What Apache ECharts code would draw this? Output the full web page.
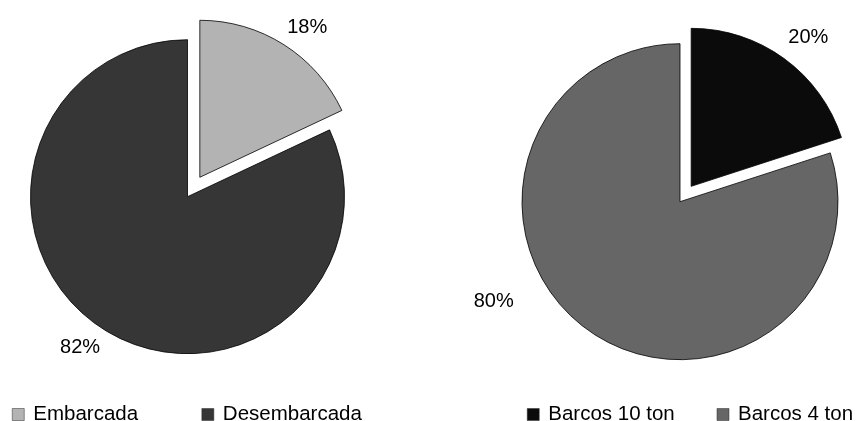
<!DOCTYPE html>
<html>
<head>
<meta charset="utf-8">
<script src="https://cdn.jsdelivr.net/npm/echarts@6/dist/echarts.min.js"></script>
<style>
  html, body { margin: 0; padding: 0; background: #ffffff; }
  #chart { width: 857px; height: 421px; }
</style>
</head>
<body>
<div id="chart"></div>
<script>
// Left pie: share of catch landed on board vs. unloaded
const captureCategories = ['Embarcada', 'Desembarcada'];
const captureValues = [18, 82];
const captureColors = ['#b3b3b3', '#363636'];

// Right pie: share by vessel class
const fleetCategories = ['Barcos 10 ton', 'Barcos 4 ton'];
const fleetValues = [20, 80];
const fleetColors = ['#0b0b0b', '#666666'];

const FONT = "'Liberation Sans', Arial, sans-serif";

function pieData(names, values, colors, extra) {
  return names.map((n, i) => Object.assign({
    name: n,
    value: values[i],
    itemStyle: { color: colors[i] }
  }, extra[i] || {}));
}

function pieSeries(names, values, colors, center, radius, offset, extra) {
  return {
    type: 'pie',
    center: center,
    radius: radius,
    startAngle: 90,
    clockwise: true,
    selectedMode: 'single',
    selectedOffset: offset,
    avoidLabelOverlap: false,
    silent: true,
    animation: false,
    itemStyle: { borderColor: '#000000', borderWidth: 0.8 },
    label: {
      show: true,
      position: 'outside',
      formatter: '{d}%',
      color: '#000000',
      fontFamily: FONT,
      fontSize: 20
    },
    labelLine: { show: false, length: 21, length2: -13 },
    emphasis: { disabled: true },
    data: pieData(names, values, colors, extra)
  };
}

function legend(names, left, gap) {
  return {
    data: names,
    left: left,
    top: 404,
    padding: 0,
    orient: 'horizontal',
    icon: 'rect',
    itemWidth: 12,
    itemHeight: 12,
    itemGap: gap,
    selectedMode: false,
    itemStyle: { borderColor: '#2a2a2a', borderWidth: 0.5 },
    textStyle: {
      fontFamily: FONT,
      fontSize: 20.5,
      lineHeight: 20,
      color: '#000000',
      padding: [0, 0, 0, 4]
    }
  };
}

const chart = echarts.init(document.getElementById('chart'), null, { renderer: 'canvas' });
chart.setOption({
  backgroundColor: '#ffffff',
  animation: false,
  legend: [
    legend(captureCategories, 12, 63.5),
    legend(fleetCategories, 527, 42)
  ],
  series: [
    pieSeries(captureCategories, captureValues, captureColors, [187.5, 196.7], 157, 23,
      [{ selected: true }, {}]),
    pieSeries(fleetCategories, fleetValues, fleetColors, [680, 201.7], 158, 19,
      [{ selected: true, labelLine: { length: 26, length2: -16 } },
       { labelLine: { length: -35, length2: 89 } }])
  ]
});
</script>
</body>
</html>
